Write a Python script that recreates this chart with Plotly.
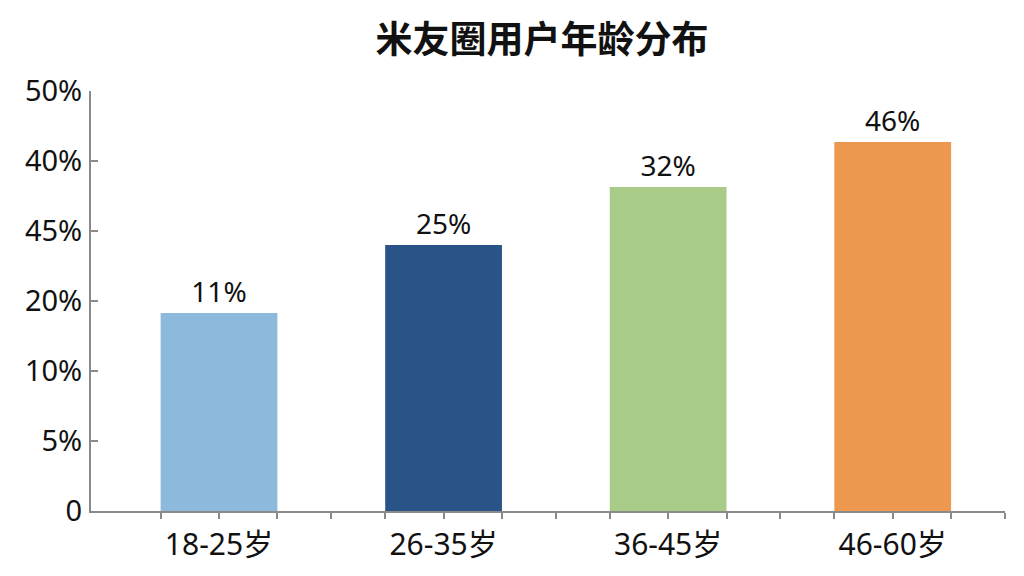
import plotly.graph_objects as go

categories = ["18-25岁", "26-35岁", "36-45岁", "46-60岁"]
bar_heights = [28.3, 38.0, 46.3, 52.7]
bar_labels = ["11%", "25%", "32%", "46%"]
bar_colors = ["#8DB9DC", "#2A5488", "#A8CB88", "#EC994F"]
y_tickvals = [0, 10, 20, 30, 40, 50, 60]
y_ticktext = ["0", "5%", "10%", "20%", "45%", "40%", "50%"]
title_text = "米友圈用户年龄分布"

xpos = list(range(len(categories)))
half_w = 0.26
x_tickvals, x_ticktext = [], []
for i, c in enumerate(categories):
    x_tickvals += [i - half_w, i, i + half_w, i + 0.5]
    x_ticktext += ["", c, "", ""]

fig = go.Figure(go.Bar(
    x=xpos, y=bar_heights, width=2 * half_w,
    marker=dict(color=bar_colors, line=dict(width=0)),
    text=bar_labels, textposition="outside", cliponaxis=False,
    textfont=dict(size=28, color="#111111", family="Noto Sans, sans-serif"),
))

fig.update_layout(
    width=1024, height=576,
    margin=dict(l=83, r=27, t=83, b=73, autoexpand=False),
    paper_bgcolor="white", plot_bgcolor="white",
    showlegend=False,
    title=dict(text=title_text, x=0.5215, xanchor="center", y=0.944, yanchor="middle",
               font=dict(size=37, color="#111111", family="Noto Sans CJK SC", weight="bold")),
    font=dict(family="Noto Sans, Noto Sans CJK SC, sans-serif", color="#111111"),
)
fig.update_xaxes(
    range=[-0.57, 3.5], tickmode="array", tickvals=x_tickvals, ticktext=x_ticktext,
    showline=True, linecolor="#8a8a8a", linewidth=2, automargin=False,
    ticks="outside", ticklen=6, tickcolor="#8a8a8a", tickwidth=1.5,
    showgrid=False, zeroline=False,
    tickfont=dict(size=30, color="#111111", family="Noto Sans, Noto Sans CJK SC"),
)
fig.update_yaxes(
    range=[0, 60], tickmode="array", tickvals=y_tickvals, ticktext=y_ticktext,
    showline=True, linecolor="#8a8a8a", linewidth=2, automargin=False,
    ticks="inside", ticklen=7, tickcolor="#8a8a8a", tickwidth=1.5,
    showgrid=False, zeroline=False, ticklabelstandoff=1,
    tickfont=dict(size=29, color="#111111", family="Noto Sans"),
)

fig.write_html("out.html")
